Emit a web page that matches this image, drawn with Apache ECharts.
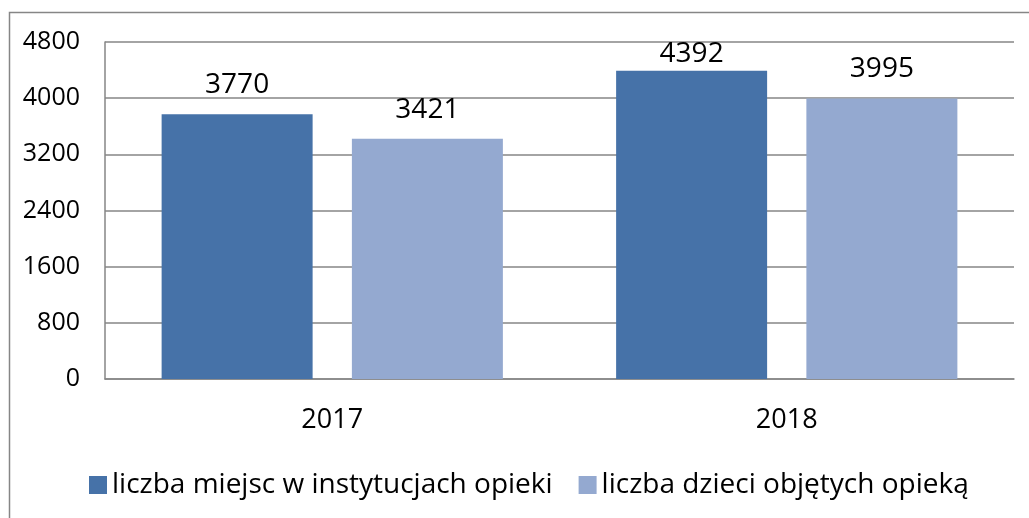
<!DOCTYPE html>
<html><head><meta charset="utf-8">
<script src="https://cdn.jsdelivr.net/npm/echarts@6/dist/echarts.min.js"></script>
<style>html,body{margin:0;padding:0;background:#fff}#c{width:1029px;height:518px}</style>
</head><body><div id="c"></div>
<script>
const categories = ['2017', '2018'];
const seriesNames = ['liczba miejsc w instytucjach opieki', 'liczba dzieci objętych opieką'];
const placesValues = [3770, 4392];
const childrenValues = [3421, 3995];
const yTicks = [0, 800, 1600, 2400, 3200, 4000, 4800];

const FONT = 'Open Sans';
const chart = echarts.init(document.getElementById('c'), null, {renderer: 'canvas'});
function labelled(vals) {
  return vals.map(v => ({value: v, label: {distance: v > 4300 ? 3 : 15}}));
}
chart.setOption({
  animation: false,
  graphic: [{type: 'rect', shape: {x: 9.5, y: 12.5, width: 1030, height: 520},
    style: {fill: 'none', stroke: '#868686', lineWidth: 1.5}, z: -1}],
  grid: {left: 105, right: 15, top: 42, bottom: 139},
  legend: {
    top: 466, left: 84, itemWidth: 18, itemHeight: 18, itemGap: 26, icon: 'rect',
    textStyle: {fontFamily: FONT, fontSize: 28, color: '#000'},
    data: seriesNames
  },
  xAxis: {
    type: 'category', data: categories,
    axisLine: {lineStyle: {color: '#868686', width: 1.5}},
    axisTick: {show: false},
    axisLabel: {fontFamily: FONT, fontSize: 27, color: '#000', margin: 28}
  },
  yAxis: {
    type: 'value', min: yTicks[0], max: yTicks[yTicks.length - 1], interval: 800,
    axisLine: {show: true, lineStyle: {color: '#868686', width: 1.5}},
    axisTick: {show: false},
    splitLine: {lineStyle: {color: '#868686', width: 1.5}},
    axisLabel: {fontFamily: FONT, fontSize: 25, color: '#000', margin: 25, formatter: v => String(v)}
  },
  series: [
    {name: seriesNames[0], type: 'bar', data: labelled(placesValues), barWidth: 151, barGap: '26%',
     itemStyle: {color: '#4672A8'},
     label: {show: true, position: 'top', fontFamily: FONT, fontSize: 28, color: '#000'}},
    {name: seriesNames[1], type: 'bar', data: labelled(childrenValues), barWidth: 151,
     itemStyle: {color: '#94A9D0'},
     label: {show: true, position: 'top', fontFamily: FONT, fontSize: 28, color: '#000'}}
  ]
});
</script></body></html>
